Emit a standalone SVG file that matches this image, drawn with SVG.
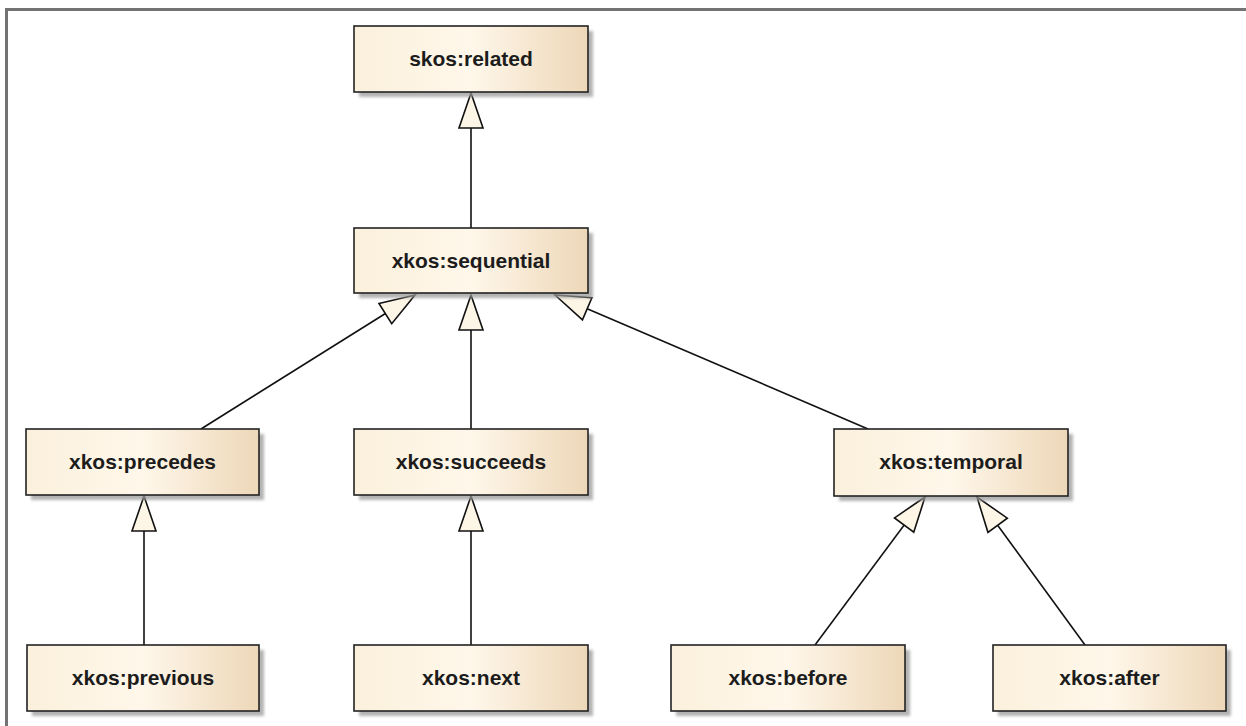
<svg xmlns="http://www.w3.org/2000/svg" width="1246" height="726" viewBox="0 0 1246 726">
  <defs>
    <linearGradient id="boxFill" x1="0" y1="0" x2="1" y2="0">
      <stop offset="0" stop-color="#fbf0dc"/>
      <stop offset="0.5" stop-color="#fff7ea"/>
      <stop offset="1" stop-color="#edd7b8"/>
    </linearGradient>
    <filter id="soft" x="-10%" y="-10%" width="130%" height="140%">
      <feGaussianBlur stdDeviation="1.5"/>
    </filter>
    <!-- hollow generalization arrowhead -->
    <marker id="gen" markerUnits="userSpaceOnUse" markerWidth="44" markerHeight="32" viewBox="-40 -16 44 32" refX="0" refY="0" orient="auto" overflow="visible">
      <path d="M0,0 L-35,-12 L-35,12 Z" fill="#fdf6e6" stroke="#111" stroke-width="1.6" stroke-linejoin="miter"/>
    </marker>
  </defs>
  <style>
    .shadow { fill: #9a9a9a; opacity: 0.75; filter: url(#soft); }
    .box { fill: url(#boxFill); stroke: #222; stroke-width: 1.6; }
    .label { font-family: "Liberation Sans", Arial, sans-serif; font-weight: bold; font-size: 21px; fill: #1c1c1c; text-anchor: middle; }
    .edge { stroke: #111; stroke-width: 1.6; fill: none; marker-end: url(#gen); }
  </style>

  <rect x="0" y="0" width="1246" height="726" fill="#ffffff"/>
  <!-- diagram frame: left and top edges -->
  <path d="M6.5,726 V9.5 H1246" fill="none" stroke="#737373" stroke-width="3"/>

  <g id="connectors">
    <line class="edge" x1="471" y1="228" x2="471" y2="93"/>
    <line class="edge" x1="201" y1="429" x2="415" y2="295"/>
    <line class="edge" x1="471" y1="429" x2="471" y2="295"/>
    <line class="edge" x1="868" y1="429" x2="555" y2="295"/>
    <line class="edge" x1="144" y1="645" x2="144" y2="496"/>
    <line class="edge" x1="471" y1="645" x2="471" y2="496"/>
    <line class="edge" x1="815" y1="645" x2="925" y2="497"/>
    <line class="edge" x1="1085" y1="645" x2="977" y2="497"/>
  </g>

  <g id="skos-related">
    <rect class="shadow" x="359" y="31" width="234" height="66"/>
    <rect class="box" x="354" y="26" width="234" height="66"/>
    <text class="label" x="471" y="66">skos:related</text>
  </g>
  <g id="xkos-sequential">
    <rect class="shadow" x="359" y="233" width="234" height="65"/>
    <rect class="box" x="354" y="228" width="234" height="65"/>
    <text class="label" x="471" y="268">xkos:sequential</text>
  </g>
  <g id="xkos-precedes">
    <rect class="shadow" x="31" y="434" width="233" height="66"/>
    <rect class="box" x="26" y="429" width="233" height="66"/>
    <text class="label" x="142.5" y="469">xkos:precedes</text>
  </g>
  <g id="xkos-succeeds">
    <rect class="shadow" x="359" y="434" width="234" height="66"/>
    <rect class="box" x="354" y="429" width="234" height="66"/>
    <text class="label" x="471" y="469">xkos:succeeds</text>
  </g>
  <g id="xkos-temporal">
    <rect class="shadow" x="839" y="434" width="234" height="67"/>
    <rect class="box" x="834" y="429" width="234" height="67"/>
    <text class="label" x="951" y="469">xkos:temporal</text>
  </g>
  <g id="xkos-previous">
    <rect class="shadow" x="32" y="650" width="232" height="66"/>
    <rect class="box" x="27" y="645" width="232" height="66"/>
    <text class="label" x="143" y="685">xkos:previous</text>
  </g>
  <g id="xkos-next">
    <rect class="shadow" x="359" y="650" width="234" height="66"/>
    <rect class="box" x="354" y="645" width="234" height="66"/>
    <text class="label" x="471" y="685">xkos:next</text>
  </g>
  <g id="xkos-before">
    <rect class="shadow" x="676" y="650" width="234" height="66"/>
    <rect class="box" x="671" y="645" width="234" height="66"/>
    <text class="label" x="788" y="685">xkos:before</text>
  </g>
  <g id="xkos-after">
    <rect class="shadow" x="998" y="650" width="233" height="66"/>
    <rect class="box" x="993" y="645" width="233" height="66"/>
    <text class="label" x="1109.5" y="685">xkos:after</text>
  </g>
</svg>
